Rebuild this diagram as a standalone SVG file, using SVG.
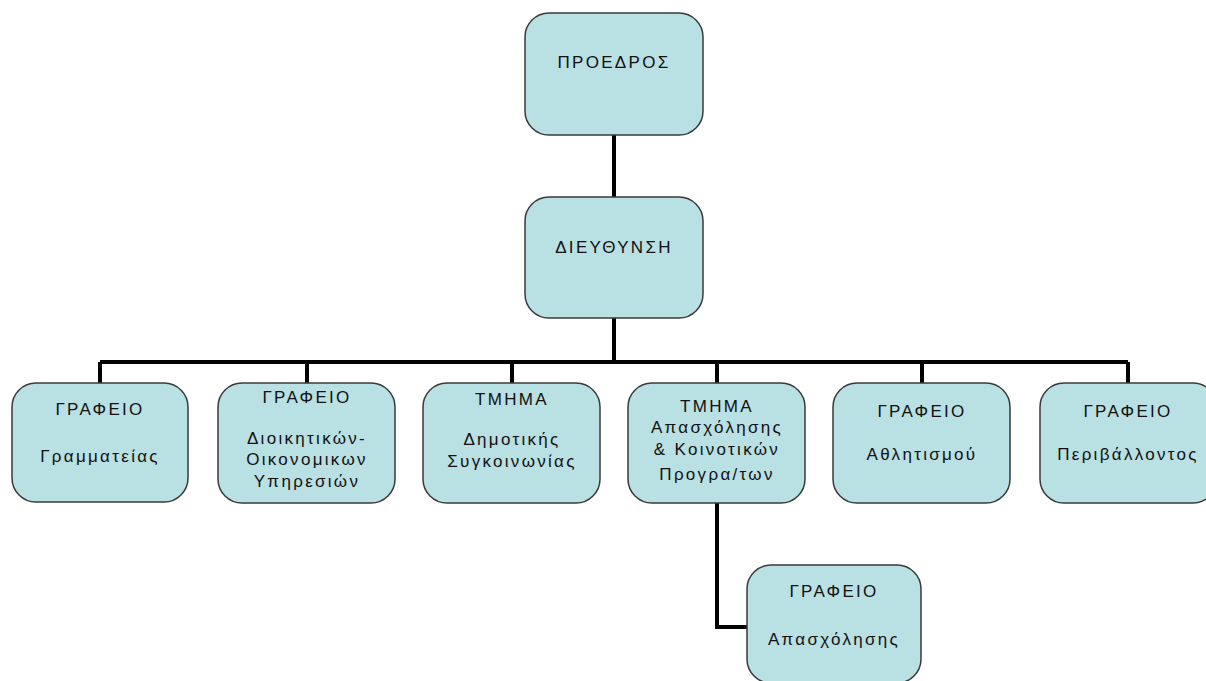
<svg xmlns="http://www.w3.org/2000/svg" width="1206" height="681" viewBox="0 0 1206 681">
<style>
.box{fill:#b9e0e3;stroke:#3a3a3a;stroke-width:1.5}
.t{font-family:"Liberation Sans",Arial,sans-serif;font-size:17px;letter-spacing:2.3px;fill:#111;text-anchor:middle}
.c{fill:none;stroke:#000;stroke-width:4}
</style>
<rect width="1206" height="681" fill="#fff"/>
<g id="connectors">
<path class="c" d="M614 135V197M614 318V362M100 362H1128M100 362V383M307 362V383M512 362V383M717 362V383M922 362V383M1128 362V383M717 503V627H747"/>
</g>
<g id="n-proedros"><rect class="box" x="525" y="13" width="178" height="122" rx="24"/><text class="t" x="614" y="68">ΠΡΟΕΔΡΟΣ</text></g>
<g id="n-dieythynsh"><rect class="box" x="525" y="197" width="178" height="121" rx="24"/><text class="t" x="614" y="253">ΔΙΕΥΘΥΝΣΗ</text></g>
<g id="n-grammateia"><rect class="box" x="12" y="383" width="176" height="119" rx="24"/><text class="t" x="100" y="415">ΓΡΑΦΕΙΟ</text><text class="t" x="100" y="462">Γραμματείας</text></g>
<g id="n-dioikhtikwn"><rect class="box" x="218" y="383" width="177" height="120" rx="24"/><text class="t" x="307" y="403">ΓΡΑΦΕΙΟ</text><text class="t" x="307" y="444">Διοικητικών-</text><text class="t" x="307" y="465">Οικονομικων</text><text class="t" x="307" y="487">Υπηρεσιών</text></g>
<g id="n-synkoinwnia"><rect class="box" x="423" y="383" width="177" height="120" rx="24"/><text class="t" x="512" y="405">ΤΜΗΜΑ</text><text class="t" x="512" y="445">Δημοτικής</text><text class="t" x="512" y="467">Συγκοινωνίας</text></g>
<g id="n-apasxolhshs-tmhma"><rect class="box" x="628" y="383" width="177" height="120" rx="24"/><text class="t" x="717" y="412">ΤΜΗΜΑ</text><text class="t" x="717" y="433">Απασχόλησης</text><text class="t" x="717" y="455">&amp; Κοινοτικών</text><text class="t" x="717" y="480">Προγρα/των</text></g>
<g id="n-athlhtismos"><rect class="box" x="833" y="383" width="177" height="120" rx="24"/><text class="t" x="922" y="417">ΓΡΑΦΕΙΟ</text><text class="t" x="922" y="460">Αθλητισμού</text></g>
<g id="n-perivallon"><rect class="box" x="1040" y="383" width="177" height="120" rx="24"/><text class="t" x="1128" y="417">ΓΡΑΦΕΙΟ</text><text class="t" x="1128" y="460">Περιβάλλοντος</text></g>
<g id="n-apasxolhshs-grafeio"><rect class="box" x="747" y="565" width="174" height="118" rx="24"/><text class="t" x="834" y="597">ΓΡΑΦΕΙΟ</text><text class="t" x="834" y="645">Απασχόλησης</text></g>
</svg>
